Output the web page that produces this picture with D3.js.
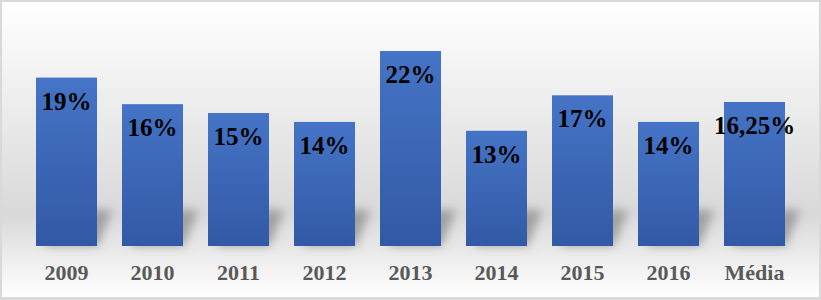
<!DOCTYPE html>
<html lang="pt">

<head>
  <meta charset="utf-8" />
  <title>Média</title>
  <script src="https://d3js.org/d3.v7.min.js"></script>
</head>

<body style="margin:0">
  <svg width="821" height="300"></svg>
</body>
<script>
// chart data
var categories = ["2009", "2010", "2011", "2012", "2013", "2014", "2015", "2016", "Média"];
var values = [19, 16, 15, 14, 22, 13, 17, 14, 16.25];
var valueLabels = ["19%", "16%", "15%", "14%", "22%", "13%", "17%", "14%", "16,25%"];

var serif = "'Liberation Serif', 'Times New Roman', Times, serif";

var svg = d3.select("svg"),
  width = +svg.attr("width"),
  height = +svg.attr("height");

var defs = svg.append("defs");

// background gradient: white -> grey -> white
var bg = defs.append("linearGradient").attr("id", "bg")
  .attr("x1", 0).attr("y1", 0).attr("x2", 0).attr("y2", 1);
bg.append("stop").attr("offset", "0").attr("stop-color", "#ffffff");
bg.append("stop").attr("offset", "0.72").attr("stop-color", "#d9d9d9");
bg.append("stop").attr("offset", "1").attr("stop-color", "#ffffff");

// bar gradient
var bar = defs.append("linearGradient").attr("id", "bar")
  .attr("x1", 0).attr("y1", 0).attr("x2", 0).attr("y2", 1);
bar.append("stop").attr("offset", "0").attr("stop-color", "#4574c6");
bar.append("stop").attr("offset", "1").attr("stop-color", "#3259a5");

defs.append("filter").attr("id", "blur")
  .attr("x", "-50%").attr("y", "-50%").attr("width", "200%").attr("height", "200%")
  .append("feGaussianBlur").attr("stdDeviation", 5);

// frame
svg.append("rect")
  .attr("x", 0).attr("y", 0)
  .attr("width", width).attr("height", height)
  .attr("fill", "#d9d9d9");
svg.append("rect")
  .attr("x", 2).attr("y", 2)
  .attr("width", width - 4).attr("height", height - 5)
  .attr("fill", "url(#bg)");

// scales
var x = d3.scaleBand()
  .domain(categories)
  .range([10.2, 810.8])
  .paddingInner(25 / 86)
  .paddingOuter(0.3);

var y = d3.scaleLinear().domain([0, 22]).range([246, 51]);

var data = categories.map(function (c, i) {
  return { cat: c, v: values[i], label: valueLabels[i] };
});

// soft shadows cast behind the bars
svg.append("g")
  .attr("filter", "url(#blur)")
  .selectAll("path")
  .data(data)
  .enter()
  .append("path")
  .attr("fill", "#7f7f7f")
  .attr("opacity", 0.65)
  .attr("d", function (d) {
    var x0 = x(d.cat), x1 = x0 + x.bandwidth(), b = y(0);
    return "M" + (x0 + 8) + "," + b + "L" + (x1 + 1) + "," + b +
      "L" + (x1 + 15) + "," + (b - 36) + "L" + (x0 + 22) + "," + (b - 36) + "Z";
  });

// bars
svg.append("g")
  .selectAll("rect")
  .data(data)
  .enter()
  .append("rect")
  .attr("x", function (d) { return x(d.cat); })
  .attr("y", function (d) { return y(d.v); })
  .attr("width", x.bandwidth())
  .attr("height", function (d) { return y(0) - y(d.v); })
  .attr("fill", "url(#bar)");

// value labels
svg.append("g")
  .selectAll("text")
  .data(data)
  .enter()
  .append("text")
  .attr("x", function (d) { return x(d.cat) + x.bandwidth() / 2; })
  .attr("y", function (d) { return y(d.v) + 32; })
  .attr("text-anchor", "middle")
  .style("font-family", serif)
  .style("font-weight", "bold")
  .style("font-size", "25px")
  .attr("fill", "#000")
  .text(function (d) { return d.label; });

// category axis
var axis = svg.append("g")
  .attr("transform", "translate(0," + y(0) + ")")
  .call(d3.axisBottom(x).tickSize(0).tickPadding(0));
axis.select(".domain").remove();
axis.selectAll("text")
  .attr("dy", null)
  .attr("y", 34)
  .style("font-family", serif)
  .style("font-weight", "bold")
  .style("font-size", "22px")
  .attr("fill", "#595959");
</script>
</html>
